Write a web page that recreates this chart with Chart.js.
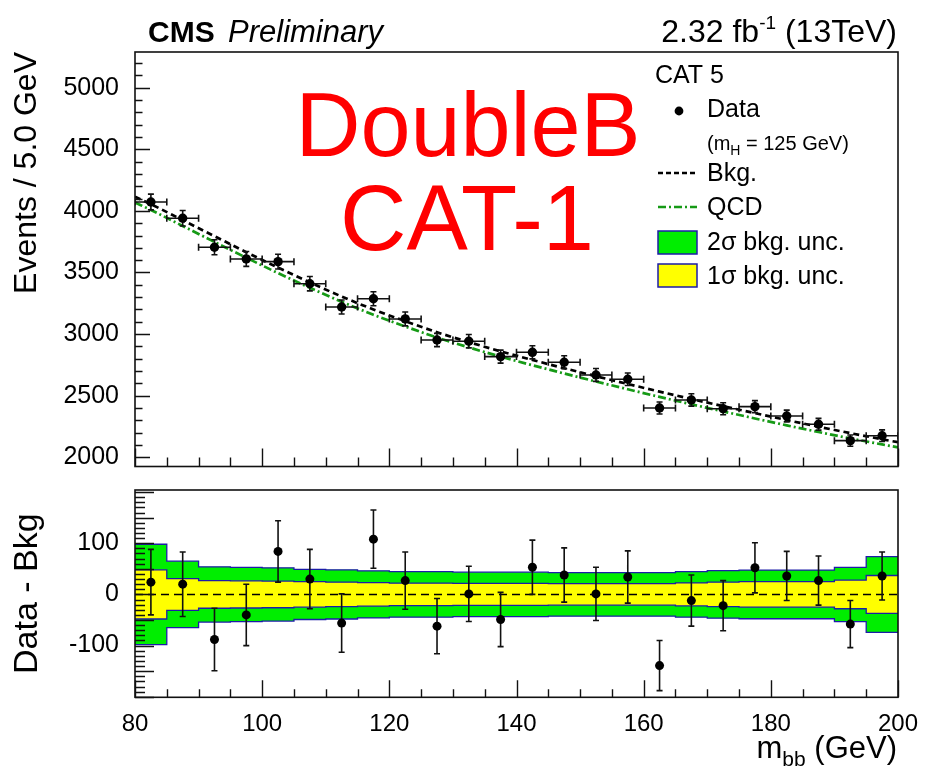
<!DOCTYPE html>
<html><head><meta charset="utf-8">
<script src="https://cdn.jsdelivr.net/npm/chart.js@4.4.0/dist/chart.umd.min.js"></script>
<style>
html,body{margin:0;padding:0;background:#fff;}
#wrap{position:relative;width:930px;height:769px;overflow:hidden;background:#fff;}
#topc{position:absolute;left:0;top:0;}
#botc{position:absolute;left:0;top:480px;}
</style></head><body>
<div id="wrap"><canvas id="topc" width="930" height="480"></canvas><canvas id="botc" width="930" height="289"></canvas></div>
<script>
const FONT = "'Liberation Sans', Arial, Helvetica, sans-serif";

// ---------- data ----------
const massCenters = [82.5, 87.5, 92.5, 97.5, 102.5, 107.5, 112.5, 117.5, 122.5, 127.5, 132.5, 137.5,
                     142.5, 147.5, 152.5, 157.5, 162.5, 167.5, 172.5, 177.5, 182.5, 187.5, 192.5, 197.5];
const dataCounts = [4072, 3940, 3705, 3610, 3588, 3409, 3220, 3287, 3123, 2952, 2942, 2817,
                    2852, 2771, 2668, 2633, 2400, 2465, 2394, 2411, 2335, 2268, 2135, 2175];
const dataErrors = [64, 63, 61, 60, 60, 58, 57, 57, 56, 54, 54, 53,
                    53, 53, 52, 51, 49, 50, 49, 49, 48, 48, 46, 47];
const binHalfWidth = 2.5;

const curveMass = [80, 82.5, 87.5, 92.5, 97.5, 102.5, 107.5, 112.5, 117.5, 122.5, 127.5, 132.5, 137.5,
                   142.5, 147.5, 152.5, 157.5, 162.5, 167.5, 172.5, 177.5, 182.5, 187.5, 192.5, 197.5, 200];
const bkgCurve = [4115, 4055, 3925, 3795, 3665, 3540, 3420, 3305, 3200, 3105, 3015, 2935, 2860,
                  2790, 2723, 2658, 2595, 2533, 2473, 2415, 2358, 2302, 2248, 2196, 2146, 2122];
const qcdCurve = [4068, 4008, 3878, 3748, 3620, 3495, 3376, 3262, 3157, 3062, 2972, 2892, 2817,
                  2747, 2680, 2615, 2552, 2490, 2430, 2372, 2315, 2259, 2205, 2153, 2104, 2080];

const residuals = [24, 20, -88, -40, 84, 30, -56, 108, 27, -62, 1, -49,
                   53, 38, 1, 34, -139, -12, -22, 52, 36, 27, -58, 36];
const residualErrors = [64, 63, 61, 60, 60, 58, 57, 57, 56, 54, 54, 53,
                        53, 53, 52, 51, 49, 50, 49, 49, 48, 48, 46, 47];

const binEdges = [80, 85, 90, 95, 100, 105, 110, 115, 120, 125, 130, 135, 140,
                  145, 150, 155, 160, 165, 170, 175, 180, 185, 190, 195, 200];
const band2Sigma = [98, 65, 54, 53, 52, 49, 48, 46, 44.5, 44.5, 43.5, 43.5,
                    43.5, 42.5, 42.5, 42.5, 42.5, 44.5, 46.5, 47.5, 47.5, 47.5, 53, 74];
const band1Sigma = [48, 31, 27, 26.5, 26, 25, 24, 23, 22, 22, 21.5, 21.5,
                    21.5, 21, 21, 21, 21, 22.5, 24, 25, 25, 25, 28, 37];

const topYTicks = [2000, 2500, 3000, 3500, 4000, 4500, 5000];
const botYTicks = [-100, 0, 100];
const xTicks = [80, 100, 120, 140, 160, 180, 200];

// ---------- helpers ----------
Chart.defaults.font.family = FONT;
Chart.defaults.color = '#000';

const BAND_BORDER = '#1c1ca8';

function noPad(s) { s.paddingTop = 0; s.paddingBottom = 0; s.paddingLeft = 0; s.paddingRight = 0; }

function errorBarPlugin(xs, ys, errs, xerr) {
  return {
    id: 'errbars',
    beforeDatasetDraw(chart, args) {
      if (args.index !== 0) return;
      const sx = chart.scales.x, sy = chart.scales.y, ctx = chart.ctx, a = chart.chartArea;
      ctx.save();
      ctx.beginPath(); ctx.rect(a.left, a.top, a.right - a.left, a.bottom - a.top); ctx.clip();
      ctx.strokeStyle = '#111'; ctx.lineWidth = 1.6; ctx.setLineDash([]);
      ctx.beginPath();
      xs.forEach((m, i) => {
        const px = sx.getPixelForValue(m), py = sy.getPixelForValue(ys[i]);
        const y1 = sy.getPixelForValue(ys[i] + errs[i]), y2 = sy.getPixelForValue(ys[i] - errs[i]);
        ctx.moveTo(px, y1); ctx.lineTo(px, y2);
        ctx.moveTo(px - 3, y1); ctx.lineTo(px + 3, y1);
        ctx.moveTo(px - 3, y2); ctx.lineTo(px + 3, y2);
        if (xerr) {
          const x1 = sx.getPixelForValue(m - xerr), x2 = sx.getPixelForValue(m + xerr);
          ctx.moveTo(x1, py); ctx.lineTo(x2, py);
          ctx.moveTo(x1, py - 3.5); ctx.lineTo(x1, py + 3.5);
          ctx.moveTo(x2, py - 3.5); ctx.lineTo(x2, py + 3.5);
        }
      });
      ctx.stroke();
      ctx.restore();
    }
  };
}

function frameTicksPlugin(spec) {
  return {
    id: 'frameTicks',
    afterDatasetsDraw(chart) {
      const ctx = chart.ctx, a = chart.chartArea, sx = chart.scales.x, sy = chart.scales.y;
      ctx.save();
      ctx.setLineDash([]);
      ctx.strokeStyle = '#111'; ctx.lineWidth = 1.4;
      ctx.beginPath();
      const nx = Math.round((spec.xMax - spec.xMin) / spec.xMinor);
      for (let k = 0; k <= nx; k++) {
        const v = spec.xMin + k * spec.xMinor;
        const major = Math.abs(v / spec.xMajor - Math.round(v / spec.xMajor)) < 1e-6;
        const px = Math.round(sx.getPixelForValue(v)) + 0.5;
        ctx.moveTo(px, a.bottom); ctx.lineTo(px, a.bottom - (major ? spec.xMajorLen : spec.xMinorLen));
      }
      const k0 = Math.ceil(sy.min / spec.yMinor), k1 = Math.floor(sy.max / spec.yMinor);
      for (let k = k0; k <= k1; k++) {
        const v = k * spec.yMinor;
        const major = Math.abs(v / spec.yMajor - Math.round(v / spec.yMajor)) < 1e-6;
        const py = Math.round(sy.getPixelForValue(v)) + 0.5;
        ctx.moveTo(a.left, py); ctx.lineTo(a.left + (major ? spec.yMajorLen : spec.yMinorLen), py);
      }
      ctx.stroke();
      ctx.lineWidth = 1.6;
      ctx.strokeRect(a.left, a.top, a.right - a.left, a.bottom - a.top);
      ctx.restore();
    }
  };
}

function drawSubText(ctx, parts, xRight, baseline) {
  let total = 0;
  parts.forEach(p => { ctx.font = (p[3] || '') + ' ' + p[1] + 'px ' + FONT; total += ctx.measureText(p[0]).width; });
  drawSubTextLeft(ctx, parts, xRight - total, baseline);
}
function drawSubTextLeft(ctx, parts, xLeft, baseline) {
  let x = xLeft;
  parts.forEach(p => {
    ctx.font = (p[3] || '') + ' ' + p[1] + 'px ' + FONT;
    ctx.fillText(p[0], x, baseline + p[2]);
    x += ctx.measureText(p[0]).width;
  });
}

const topAnnotations = {
  id: 'topAnnot',
  afterDraw(chart) {
    const ctx = chart.ctx;
    ctx.save();
    ctx.fillStyle = '#000'; ctx.textBaseline = 'alphabetic'; ctx.textAlign = 'left';
    // header
    ctx.font = 'bold 30px ' + FONT; ctx.fillText('CMS', 148, 42);
    ctx.font = 'italic 31px ' + FONT; ctx.fillText('Preliminary', 228, 42);
    drawSubText(ctx, [['2.32 fb', 32, 0], ['-1', 19, -13], [' (13TeV)', 32, 0]], 897, 42);
    // big red label
    ctx.fillStyle = '#ff0000'; ctx.textAlign = 'center';
    ctx.font = '90px ' + FONT;
    ctx.fillText('DoubleB', 468, 156);
    ctx.font = '92px ' + FONT;
    ctx.fillText('CAT-1', 467, 250);
    // legend
    ctx.fillStyle = '#000'; ctx.textAlign = 'left';
    ctx.font = '25px ' + FONT;
    ctx.fillText('CAT 5', 655, 83);
    ctx.fillText('Data', 707, 117);
    drawSubTextLeft(ctx, [['(m', 20, 0], ['H', 14, 5], [' = 125 GeV)', 20, 0]], 707, 150);
    ctx.font = '25px ' + FONT;
    ctx.fillText('Bkg.', 707, 181);
    ctx.fillText('QCD', 707, 215);
    ctx.fillText('2\u03c3 bkg. unc.', 707, 250);
    ctx.fillText('1\u03c3 bkg. unc.', 707, 284);
    // legend symbols
    ctx.beginPath(); ctx.arc(679, 111, 4.4, 0, Math.PI * 2); ctx.fill();
    ctx.lineWidth = 2.6;
    ctx.strokeStyle = '#000'; ctx.setLineDash([5, 3]);
    ctx.beginPath(); ctx.moveTo(658, 173); ctx.lineTo(697, 173); ctx.stroke();
    ctx.strokeStyle = '#169a16'; ctx.setLineDash([8, 3, 2, 3]);
    ctx.beginPath(); ctx.moveTo(658, 207); ctx.lineTo(697, 207); ctx.stroke();
    ctx.setLineDash([]);
    ctx.lineWidth = 1.5; ctx.strokeStyle = BAND_BORDER;
    ctx.fillStyle = '#00ee00'; ctx.fillRect(658, 231, 39, 23); ctx.strokeRect(658, 231, 39, 23);
    ctx.fillStyle = '#ffff00'; ctx.fillRect(658, 264, 39, 23); ctx.strokeRect(658, 264, 39, 23);
    ctx.restore();
  }
};

const botAnnotations = {
  id: 'botAnnot',
  afterDraw(chart) {
    const ctx = chart.ctx;
    ctx.save();
    ctx.fillStyle = '#000'; ctx.textBaseline = 'alphabetic'; ctx.textAlign = 'left';
    drawSubText(ctx, [['m', 31, 0], ['bb', 21, 8], [' (GeV)', 31, 0]], 897, 758 - 480);
    ctx.restore();
  }
};

const plainLabel = v => String(v);

// ---------- top panel ----------
new Chart(document.getElementById('topc'), {
  type: 'scatter',
  data: {
    datasets: [
      { label: 'Data', data: massCenters.map((m, i) => ({ x: m, y: dataCounts[i] })),
        pointRadius: 4.7, pointBackgroundColor: '#000', pointBorderColor: '#000', pointBorderWidth: 0,
        showLine: false, order: 0 },
      { label: 'Bkg.', data: curveMass.map((m, i) => ({ x: m, y: bkgCurve[i] })),
        showLine: true, pointRadius: 0, borderColor: '#000', borderWidth: 2.7, borderDash: [6, 4],
        cubicInterpolationMode: 'monotone', order: 2 },
      { label: 'QCD', data: curveMass.map((m, i) => ({ x: m, y: qcdCurve[i] })),
        showLine: true, pointRadius: 0, borderColor: '#169a16', borderWidth: 2.7, borderDash: [8, 3, 2, 3],
        cubicInterpolationMode: 'monotone', order: 3 }
    ]
  },
  options: {
    responsive: false, animation: false,
    layout: { padding: { left: 0, right: 32, top: 52, bottom: 13.5 } },
    plugins: { legend: { display: false }, tooltip: { enabled: false } },
    scales: {
      x: { type: 'linear', min: 80, max: 200, display: false, afterFit: noPad },
      y: { type: 'linear', min: 1925, max: 5290,
        afterFit(s) { s.width = 135; noPad(s); },
        afterBuildTicks(s) { s.ticks = topYTicks.map(v => ({ value: v })); },
        grid: { display: false }, border: { display: false },
        ticks: { font: { size: 25, family: FONT }, color: '#000', padding: 8, autoSkip: false, callback: plainLabel },
        title: { display: true, text: 'Events / 5.0 GeV', align: 'end', color: '#000',
                 font: { size: 32, family: FONT }, padding: { top: 8, bottom: 0 } } }
    }
  },
  plugins: [errorBarPlugin(massCenters, dataCounts, dataErrors, binHalfWidth),
            frameTicksPlugin({ xMin: 80, xMax: 200, xMinor: 5, xMajor: 20, xMajorLen: 18, xMinorLen: 9,
                               yMinor: 100, yMajor: 500, yMajorLen: 15, yMinorLen: 7.5 }),
            topAnnotations]
});

// ---------- bottom panel ----------
const lastBin = band2Sigma.length - 1;
const bandPts = (arr, sign) => binEdges.map((e, i) => ({ x: e, y: sign * arr[Math.min(i, lastBin)] }));

new Chart(document.getElementById('botc'), {
  type: 'scatter',
  data: {
    datasets: [
      { label: 'Data - Bkg', data: massCenters.map((m, i) => ({ x: m, y: residuals[i] })),
        pointRadius: 4.5, pointBackgroundColor: '#000', pointBorderColor: '#000', pointBorderWidth: 0,
        showLine: false, order: 0 },
      { label: 'zero', data: [{ x: 80, y: 0 }, { x: 200, y: 0 }], showLine: true, pointRadius: 0,
        borderColor: '#000', borderWidth: 1.5, borderDash: [8, 5], order: 1 },
      { label: '+1s', data: bandPts(band1Sigma, 1), showLine: true, stepped: 'before', pointRadius: 0,
        borderColor: BAND_BORDER, borderWidth: 1.3, fill: false, order: 5 },
      { label: '-1s', data: bandPts(band1Sigma, -1), showLine: true, stepped: 'before', pointRadius: 0,
        borderColor: BAND_BORDER, borderWidth: 1.3, fill: '-1', backgroundColor: '#ffff00', order: 5 },
      { label: '+2s', data: bandPts(band2Sigma, 1), showLine: true, stepped: 'before', pointRadius: 0,
        borderColor: BAND_BORDER, borderWidth: 1.3, fill: false, order: 10 },
      { label: '-2s', data: bandPts(band2Sigma, -1), showLine: true, stepped: 'before', pointRadius: 0,
        borderColor: BAND_BORDER, borderWidth: 1.3, fill: '-1', backgroundColor: '#00ee00', order: 10 }
    ]
  },
  options: {
    responsive: false, animation: false,
    layout: { padding: { left: 0, right: 32, top: 10, bottom: 31.7 } },
    plugins: { legend: { display: false }, tooltip: { enabled: false }, filler: { propagate: false } },
    scales: {
      x: { type: 'linear', min: 80, max: 200,
        afterFit(s) { s.height = 40; noPad(s); },
        afterBuildTicks(s) { s.ticks = xTicks.map(v => ({ value: v })); },
        grid: { display: false }, border: { display: false },
        ticks: { font: { size: 24, family: FONT }, color: '#000', padding: 5, autoSkip: false, maxRotation: 0, callback: plainLabel } },
      y: { type: 'linear', min: -201, max: 204,
        afterFit(s) { s.width = 135; noPad(s); },
        afterBuildTicks(s) { s.ticks = botYTicks.map(v => ({ value: v })); },
        grid: { display: false }, border: { display: false },
        ticks: { font: { size: 25, family: FONT }, color: '#000', padding: 8, autoSkip: false, callback: plainLabel },
        title: { display: true, text: 'Data - Bkg', align: 'center', color: '#000',
                 font: { size: 34, family: FONT }, padding: { top: 7, bottom: 0 } } }
    }
  },
  plugins: [errorBarPlugin(massCenters, residuals, residualErrors, 0),
            frameTicksPlugin({ xMin: 80, xMax: 200, xMinor: 5, xMajor: 20, xMajorLen: 17, xMinorLen: 8,
                               yMinor: 10, yMajor: 50, yMajorLen: 19, yMinorLen: 10 }),
            botAnnotations]
});
</script>
</body></html>
